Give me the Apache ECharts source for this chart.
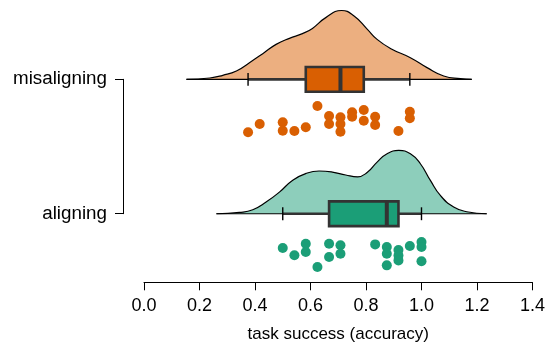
<!DOCTYPE html>
<html><head><meta charset="utf-8">
<script src="https://cdn.jsdelivr.net/npm/echarts@6/dist/echarts.min.js"></script>
<style>html,body{margin:0;padding:0;background:#fff}#c{width:548px;height:349px}</style>
</head><body><div id="c"></div>
<script>
// ---- data ----
const categories = ['aligning', 'misaligning'];
const catPos = [0, 1];
const xTicks = [0, 0.2, 0.4, 0.6, 0.8, 1.0, 1.2, 1.4];
const xTitle = 'task success (accuracy)';

// box statistics (order follows categories)
const boxLow  = [0.500, 0.375];
const boxQ1   = [0.667, 0.583];
const boxMed  = [0.875, 0.708];
const boxQ3   = [0.917, 0.792];
const boxHigh = [1.000, 0.958];

// density curves (x, height)
const misDensX = [0.153,0.237,0.284,0.333,0.380,0.428,0.476,0.524,0.571,0.607,0.655,0.712,0.757,0.805,0.840,0.888,0.960,1.020,1.080,1.140,1.181];
const misDensH = [0,0.010,0.030,0.062,0.124,0.191,0.260,0.305,0.340,0.379,0.459,0.512,0.471,0.372,0.297,0.230,0.161,0.087,0.025,0.005,0];
const aliDensX = [0.261,0.344,0.392,0.440,0.488,0.536,0.584,0.631,0.679,0.727,0.770,0.805,0.840,0.876,0.918,0.960,0.996,1.032,1.068,1.116,1.163,1.235];
const aliDensH = [0,0.010,0.030,0.087,0.161,0.250,0.300,0.318,0.310,0.288,0.275,0.308,0.384,0.446,0.471,0.446,0.372,0.248,0.136,0.050,0.015,0];

// raw points (accuracy, jittered vertical position)
const misPtX = [0.375,0.417,0.5,0.5,0.542,0.583,0.625,0.667,0.667,0.708,0.708,0.708,0.75,0.75,0.792,0.792,0.833,0.833,0.917,0.958,0.958];
const misPtY = [0.606,0.668,0.680,0.618,0.616,0.643,0.801,0.727,0.668,0.717,0.668,0.610,0.755,0.722,0.772,0.692,0.722,0.660,0.616,0.759,0.710];
const aliPtX = [0.5,0.542,0.583,0.583,0.625,0.667,0.667,0.708,0.708,0.833,0.875,0.875,0.875,0.917,0.917,0.917,0.958,1.0,1.0,1.0];
const aliPtY = [-0.255,-0.309,-0.223,-0.285,-0.396,-0.223,-0.322,-0.235,-0.297,-0.228,-0.248,-0.297,-0.384,-0.270,-0.310,-0.347,-0.240,-0.210,-0.248,-0.354];

// ---- styling ----
const FONT = 'Liberation Sans, Arial, Helvetica, sans-serif';
const darkCol  = ['#1B9E77', '#D95F02'];
const lightCol = ['#8DCEBB', '#ECAF80'];
const densX = [aliDensX, misDensX];
const densH = [aliDensH, misDensH];
const ptX = [aliPtX, misPtX];
const ptY = [aliPtY, misPtY];

const series = [];
categories.forEach((c, g) => {
  series.push({
    type: 'line', xAxisIndex: 0, yAxisIndex: 0, z: 1,
    data: densX[g].map((x, i) => [x, catPos[g] + densH[g][i]]),
    smooth: 0.5, symbol: 'none', silent: true,
    lineStyle: { color: '#000', width: 1.2 },
    areaStyle: { color: lightCol[g], opacity: 1, origin: catPos[g] }
  });
});
// density baselines
series.push({
  type: 'custom', xAxisIndex: 0, yAxisIndex: 0, z: 2, silent: true,
  data: categories.map((c, g) => [catPos[g], densX[g][0], densX[g][densX[g].length - 1]]),
  encode: { x: [1, 2], y: 0 },
  renderItem(params, api) {
    const p = api.value(0);
    const a = api.coord([api.value(1), p]), b = api.coord([api.value(2), p]);
    return { type: 'line', shape: { x1: a[0], y1: a[1], x2: b[0], y2: b[1] }, style: { stroke: '#000', lineWidth: 1.2 } };
  }
});
// box + whiskers
series.push({
  type: 'custom', xAxisIndex: 0, yAxisIndex: 0, z: 3, silent: true,
  data: categories.map((c, g) => [catPos[g], boxLow[g], boxQ1[g], boxMed[g], boxQ3[g], boxHigh[g], g]),
  encode: { x: [1, 2, 3, 4, 5], y: 0 },
  renderItem(params, api) {
    const p = api.value(0), g = api.value(6);
    const lo = api.coord([api.value(1), p]), hi = api.coord([api.value(5), p]);
    const q1t = api.coord([api.value(2), p + 0.092]), q3b = api.coord([api.value(4), p - 0.092]);
    const mt = api.coord([api.value(3), p + 0.092]), mb = api.coord([api.value(3), p - 0.092]);
    const capH = api.size([0, 0.048])[1];
    return { type: 'group', children: [
      { type: 'line', shape: { x1: lo[0], y1: lo[1], x2: hi[0], y2: hi[1] }, style: { stroke: '#333', lineWidth: 2.6 } },
      { type: 'line', shape: { x1: lo[0], y1: lo[1] - capH, x2: lo[0], y2: lo[1] + capH }, style: { stroke: '#000', lineWidth: 1.4 } },
      { type: 'line', shape: { x1: hi[0], y1: hi[1] - capH, x2: hi[0], y2: hi[1] + capH }, style: { stroke: '#000', lineWidth: 1.4 } },
      { type: 'rect', shape: { x: q1t[0], y: q1t[1], width: q3b[0] - q1t[0], height: q3b[1] - q1t[1] }, style: { fill: darkCol[g], stroke: '#333', lineWidth: 2.6 } },
      { type: 'line', shape: { x1: mt[0], y1: mt[1], x2: mb[0], y2: mb[1] }, style: { stroke: '#333', lineWidth: 4 } }
    ]};
  }
});
categories.forEach((c, g) => {
  series.push({
    type: 'scatter', xAxisIndex: 0, yAxisIndex: 0, z: 4, silent: true,
    data: ptX[g].map((x, i) => [x, ptY[g][i]]),
    symbolSize: 10, itemStyle: { color: darkCol[g], opacity: 1 }
  });
});

const chart = echarts.init(document.getElementById('c'), null, { renderer: 'canvas' });
chart.setOption({
  animation: false,
  backgroundColor: '#fff',
  textStyle: { fontFamily: FONT },
  grid: [
    { left: 144, right: 14, top: 5.4, bottom: 66.7 },
    { left: 123, width: 10, top: 79.3, height: 134.4 }
  ],
  xAxis: [
    { type: 'value', gridIndex: 0, min: xTicks[0], max: xTicks[xTicks.length - 1], interval: 0.2,
      axisLine: { show: true, onZero: false, lineStyle: { color: '#000', width: 1 } },
      axisTick: { show: true, length: 8, lineStyle: { color: '#000', width: 1 } },
      axisLabel: { fontSize: 18, color: '#000', margin: 15, fontFamily: FONT, formatter: v => v.toFixed(1) },
      splitLine: { show: false },
      name: xTitle, nameLocation: 'middle', nameGap: 44,
      nameTextStyle: { fontSize: 17, color: '#000', fontFamily: FONT } },
    { type: 'value', gridIndex: 1, show: false }
  ],
  yAxis: [
    { type: 'value', gridIndex: 0, min: -0.51, max: 1.55, show: false },
    { type: 'category', gridIndex: 1, data: categories, boundaryGap: false,
      axisLine: { show: true, lineStyle: { color: '#000', width: 1 } },
      axisTick: { show: true, length: 8, lineStyle: { color: '#000', width: 1 } },
      axisLabel: { fontSize: 18.8, color: '#000', margin: 16, fontFamily: FONT },
      splitLine: { show: false } }
  ],
  series
});
</script></body></html>
